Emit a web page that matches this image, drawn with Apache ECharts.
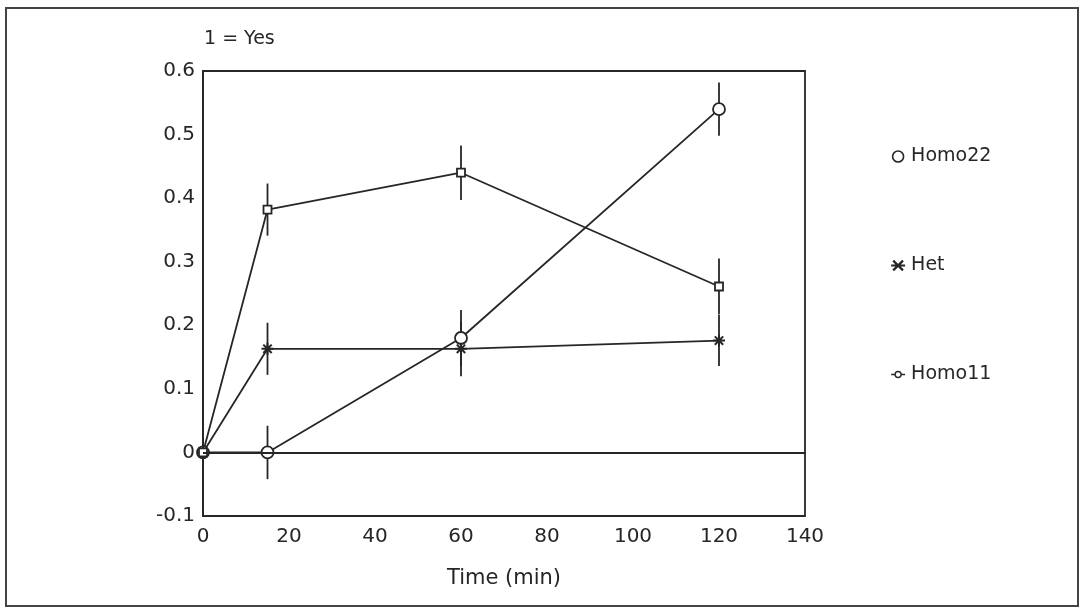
<!DOCTYPE html>
<html>
<head>
<meta charset="utf-8">
<script src="https://cdn.jsdelivr.net/npm/echarts@6/dist/echarts.min.js"></script>
<style>
html,body{margin:0;padding:0;background:#fff;}
#c{width:1081px;height:610px;}
</style>
</head>
<body>
<div id="c"></div>
<script>
var times = [0, 15, 60, 120];
var homo22 = [0, 0, 0.18, 0.54];
var het = [0, 0.163, 0.163, 0.176];
var homo11 = [0, 0.382, 0.44, 0.261];
var homo22Err = [0, 0.042, 0.044, 0.042];
var hetErr = [0, 0.041, 0.043, 0.04];
var homo11Err = [0, 0.041, 0.043, 0.044];
var xTicks = [0, 20, 40, 60, 80, 100, 120, 140];
var yTicks = [-0.1, 0, 0.1, 0.2, 0.3, 0.4, 0.5, 0.6];

var ink = '#262626';
var font = 'DejaVu Sans';

function pts(vals) { return times.map(function (t, i) { return [t, vals[i]]; }); }
function errs(vals, e) {
  var out = [];
  times.forEach(function (t, i) { if (e[i] > 0) out.push([t, vals[i] - e[i], vals[i] + e[i]]); });
  return out;
}
function errSeries(name, data) {
  return {
    name: name + ' err', type: 'custom', data: data, silent: true, z: 1,
    renderItem: function (params, api) {
      var a = api.coord([api.value(0), api.value(1)]);
      var b = api.coord([api.value(0), api.value(2)]);
      return { type: 'line', shape: { x1: a[0], y1: a[1], x2: b[0], y2: b[1] },
        style: { stroke: ink, lineWidth: 1.8 } };
    }
  };
}
var asterisk = 'path://M0,5 L10,5 M5,0 L5,10 M1.5,1.5 L8.5,8.5 M1.5,8.5 L8.5,1.5';
var legendAsterisk = 'path://M0,5 L10,5 M1.5,1.5 L8.5,8.5 M1.5,8.5 L8.5,1.5';
var lineCircle = 'path://M0,5 L4,5 M10,5 L14,5 M4,5 A3,3 0 1 1 10,5 A3,3 0 1 1 4,5 Z';

var chart = echarts.init(document.getElementById('c'));
chart.setOption({
  animation: false,
  backgroundColor: '#fff',
  textStyle: { fontFamily: font },
  grid: { left: 203, top: 71, width: 602, height: 445, show: true, borderColor: ink, borderWidth: 1.8, containLabel: false },
  graphic: [
    { type: 'rect', shape: { x: 6, y: 8, width: 1072, height: 598 }, style: { fill: 'none', stroke: '#444', lineWidth: 2 }, silent: true },
    { type: 'text', left: 204, top: 30, style: { text: '1 = Yes', font: '19px "DejaVu Sans"', fill: ink } }
  ],
  legend: {
    orient: 'vertical', left: 885, top: 142, itemGap: 90, itemWidth: 14, itemHeight: 11,
    textStyle: { fontFamily: font, fontSize: 19, color: ink, padding: [0, 0, 0, 1] },
    data: [
      { name: 'Homo22', icon: 'circle', itemStyle: { color: '#fff', borderColor: ink, borderWidth: 1.6 } },
      { name: 'Het', icon: legendAsterisk, itemStyle: { color: 'rgba(0,0,0,0)', borderColor: ink, borderWidth: 2.2 } },
      { name: 'Homo11', icon: lineCircle, itemStyle: { color: '#fff', borderColor: ink, borderWidth: 1.4 } }
    ]
  },
  xAxis: {
    type: 'value', min: 0, max: 140, interval: 20,
    name: 'Time (min)', nameLocation: 'middle', nameGap: 52,
    nameTextStyle: { fontFamily: font, fontSize: 21, color: ink },
    axisLine: { show: true, lineStyle: { color: ink, width: 1.8 } },
    axisTick: { show: false },
    splitLine: { show: false },
    axisLabel: { fontFamily: font, fontSize: 20, color: ink, margin: 11 }
  },
  yAxis: {
    type: 'value', min: -0.1, max: 0.6, interval: 0.1,
    axisLine: { show: true, lineStyle: { color: ink, width: 1.8 } },
    axisTick: { show: false },
    splitLine: { show: false },
    axisLabel: { fontFamily: font, fontSize: 20, color: ink, margin: 8,
      formatter: function (v) { var r = Math.round(v * 10) / 10; return r === 0 ? '0' : String(r); } }
  },
  series: [
    errSeries('Homo22', errs(homo22, homo22Err)),
    errSeries('Het', errs(het, hetErr)),
    errSeries('Homo11', errs(homo11, homo11Err)),
    {
      name: 'Homo22', type: 'line', data: pts(homo22), symbol: 'circle', symbolSize: 12, z: 3,
      lineStyle: { color: ink, width: 1.8 },
      itemStyle: { color: '#fff', borderColor: ink, borderWidth: 1.8 },
      markLine: { silent: true, symbol: 'none', label: { show: false },
        lineStyle: { color: ink, width: 1.8, type: 'solid' }, data: [{ yAxis: 0 }] }
    },
    {
      name: 'Het', type: 'line', data: pts(het), symbol: asterisk, symbolSize: 12, z: 3,
      lineStyle: { color: ink, width: 1.8 },
      itemStyle: { color: 'rgba(0,0,0,0)', borderColor: ink, borderWidth: 2 }
    },
    {
      name: 'Homo11', type: 'line', data: pts(homo11), symbol: 'rect', symbolSize: 8, z: 3,
      lineStyle: { color: ink, width: 1.8 },
      itemStyle: { color: '#fff', borderColor: ink, borderWidth: 1.8 }
    }
  ]
});
</script>
</body>
</html>
